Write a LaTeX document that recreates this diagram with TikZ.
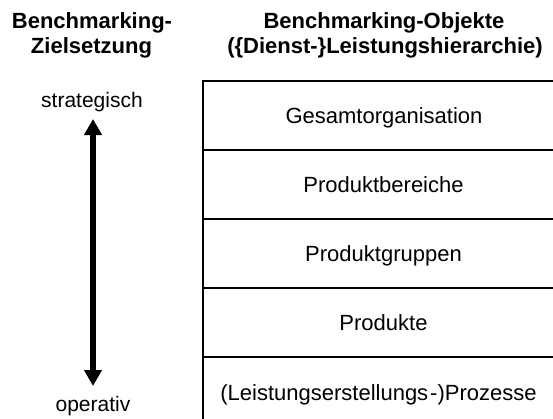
\documentclass[tikz,border=0pt]{standalone}
\usepackage{fontspec}
\setmainfont{Liberation Sans}
\usetikzlibrary{arrows.meta}
\begin{document}
\begin{tikzpicture}[x=1pt,y=-1pt,
  head/.style={font=\bfseries\fontsize{22}{26}\selectfont, inner sep=0pt, anchor=base},
  side/.style={font=\fontsize{21}{25}\selectfont, inner sep=0pt, anchor=base},
  lbl/.style={font=\fontsize{22}{26}\selectfont, inner sep=0pt, anchor=base},
  level/.style={draw=black, line width=1.6pt, minimum width=370pt, minimum height=69pt,
    inner sep=0pt, anchor=north west},
  bigarrow/.style={line width=6.5pt, {Triangle[width=17pt,length=16pt]}-{Triangle[width=17pt,length=16pt]}}
]
\useasboundingbox (0,0) rectangle (553,418);

% column headings
\node[head] (h1a) at (92,28) {Benchmarking-};
\node[head] (h1b) at (91.5,53) {Zielsetzung};
\node[head] (h2a) at (384,28) {Benchmarking-Objekte};
\node[head] (h2b) at (385,53) {(\{Dienst-\}Leistungshierarchie)};

% hierarchy levels, stacked
\node[level] (l1) at (202,80)  {};
\node[level] (l2) at (202,149) {};
\node[level] (l3) at (202,218) {};
\node[level] (l4) at (202,287) {};
\node[level] (l5) at (202,356) {};

\node[lbl] (t1) at (384,123) {Gesamtorganisation};
\node[lbl] (t2) at (383.5,192) {Produktbereiche};
\node[lbl] (t3) at (383.5,261) {Produktgruppen};
\node[lbl] (t4) at (383.5,330) {Produkte};
\node[lbl] (t5) at (378.5,400) {(Leistungserstellungs\kern2pt-)Prozesse};

% range of objectives
\node[side] (strat) at (92,107) {strategisch};
\node[side] (oper) at (93,411) {operativ};
\coordinate (atop) at (93,119);
\coordinate (abot) at (93,386);
\draw[bigarrow] (atop) -- (abot);
\end{tikzpicture}
\end{document}
